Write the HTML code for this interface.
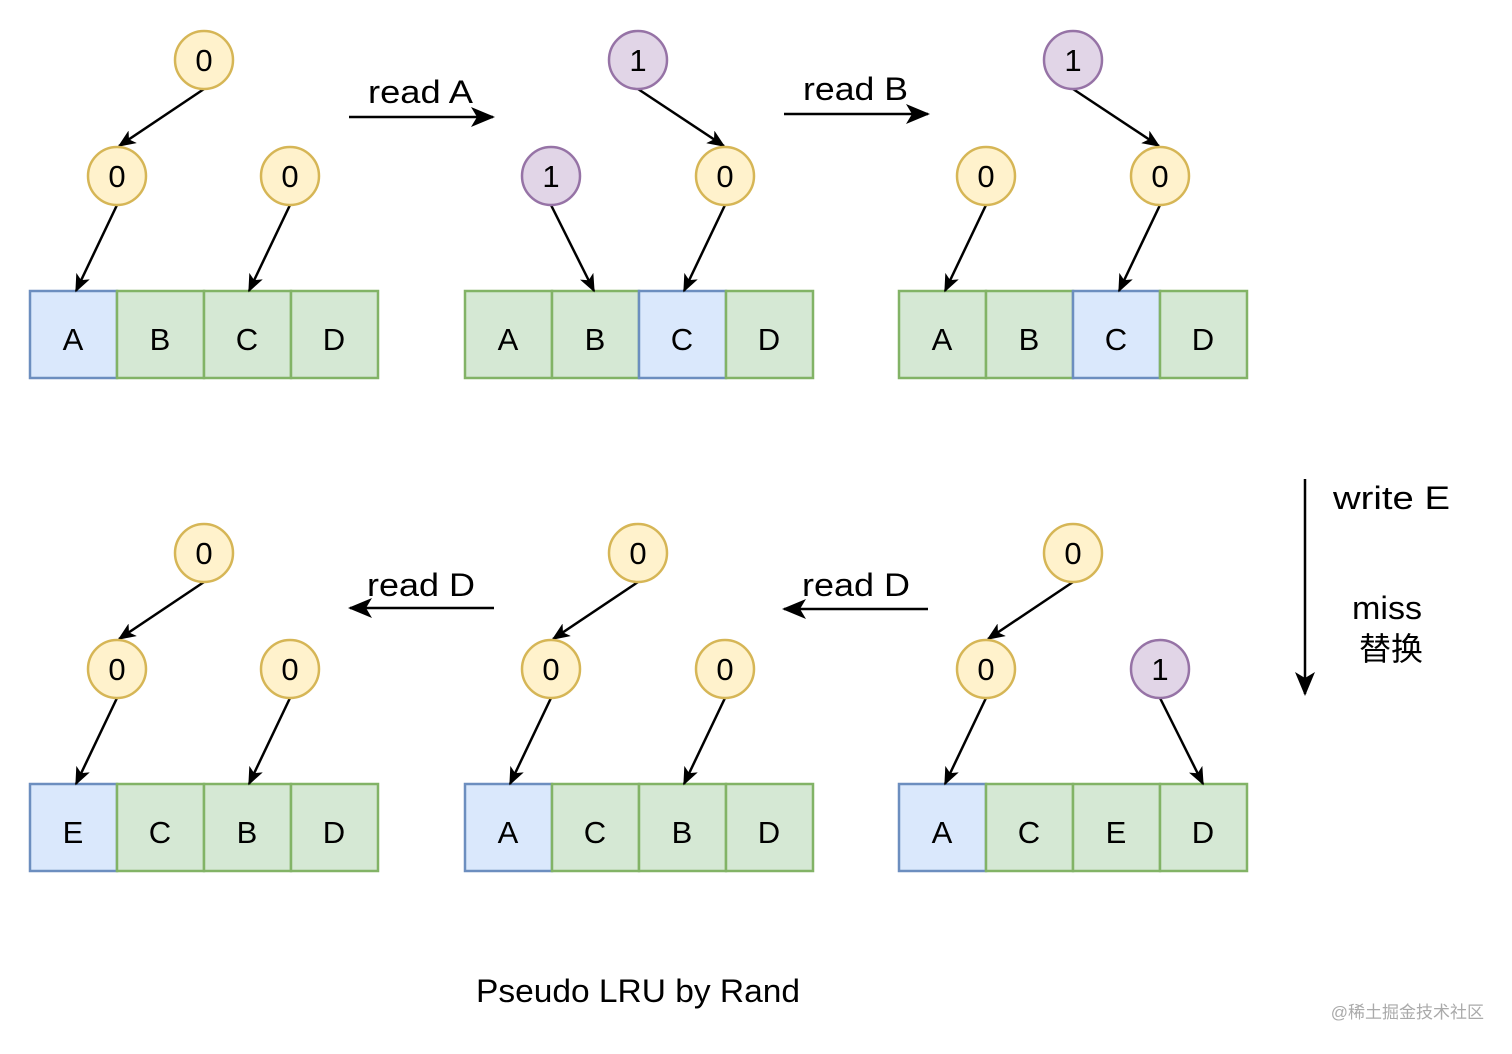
<!DOCTYPE html>
<html><head><meta charset="utf-8"><style>
html,body{margin:0;padding:0;background:#fff;}
svg text{font-family:"Comic Sans MS","Liberation Sans","Noto Sans CJK SC",sans-serif;}
</style></head><body>
<svg width="1512" height="1049" viewBox="0 0 1512 1049" xmlns="http://www.w3.org/2000/svg">
<defs>
<marker id="h" viewBox="0 0 12 10" refX="11" refY="5" markerWidth="18" markerHeight="15" orient="auto" markerUnits="userSpaceOnUse">
<path d="M0,0 L12,5 L0,10 L3,5 Z" fill="#000"/>
</marker>
<marker id="hb" viewBox="0 0 12 10" refX="11" refY="5" markerWidth="24" markerHeight="20" orient="auto" markerUnits="userSpaceOnUse">
<path d="M0,0 L12,5 L0,10 L3,5 Z" fill="#000"/>
</marker>
</defs>
<g stroke-width="2.5">
<g font-size="31" text-anchor="middle">
<rect x="30" y="291" width="87" height="87" fill="#dae8fc" stroke="#6c8ebf"/>
<rect x="117" y="291" width="87" height="87" fill="#d5e8d4" stroke="#82b366"/>
<rect x="204" y="291" width="87" height="87" fill="#d5e8d4" stroke="#82b366"/>
<rect x="291" y="291" width="87" height="87" fill="#d5e8d4" stroke="#82b366"/>
<text x="73" y="350" stroke="none">A</text><text x="160" y="350" stroke="none">B</text><text x="247" y="350" stroke="none">C</text><text x="334" y="350" stroke="none">D</text>

<rect x="465" y="291" width="87" height="87" fill="#d5e8d4" stroke="#82b366"/>
<rect x="552" y="291" width="87" height="87" fill="#d5e8d4" stroke="#82b366"/>
<rect x="639" y="291" width="87" height="87" fill="#dae8fc" stroke="#6c8ebf"/>
<rect x="726" y="291" width="87" height="87" fill="#d5e8d4" stroke="#82b366"/>
<text x="508" y="350" stroke="none">A</text><text x="595" y="350" stroke="none">B</text><text x="682" y="350" stroke="none">C</text><text x="769" y="350" stroke="none">D</text>

<rect x="899" y="291" width="87" height="87" fill="#d5e8d4" stroke="#82b366"/>
<rect x="986" y="291" width="87" height="87" fill="#d5e8d4" stroke="#82b366"/>
<rect x="1073" y="291" width="87" height="87" fill="#dae8fc" stroke="#6c8ebf"/>
<rect x="1160" y="291" width="87" height="87" fill="#d5e8d4" stroke="#82b366"/>
<text x="942" y="350" stroke="none">A</text><text x="1029" y="350" stroke="none">B</text><text x="1116" y="350" stroke="none">C</text><text x="1203" y="350" stroke="none">D</text>

<rect x="30" y="784" width="87" height="87" fill="#dae8fc" stroke="#6c8ebf"/>
<rect x="117" y="784" width="87" height="87" fill="#d5e8d4" stroke="#82b366"/>
<rect x="204" y="784" width="87" height="87" fill="#d5e8d4" stroke="#82b366"/>
<rect x="291" y="784" width="87" height="87" fill="#d5e8d4" stroke="#82b366"/>
<text x="73" y="843" stroke="none">E</text><text x="160" y="843" stroke="none">C</text><text x="247" y="843" stroke="none">B</text><text x="334" y="843" stroke="none">D</text>

<rect x="465" y="784" width="87" height="87" fill="#dae8fc" stroke="#6c8ebf"/>
<rect x="552" y="784" width="87" height="87" fill="#d5e8d4" stroke="#82b366"/>
<rect x="639" y="784" width="87" height="87" fill="#d5e8d4" stroke="#82b366"/>
<rect x="726" y="784" width="87" height="87" fill="#d5e8d4" stroke="#82b366"/>
<text x="508" y="843" stroke="none">A</text><text x="595" y="843" stroke="none">C</text><text x="682" y="843" stroke="none">B</text><text x="769" y="843" stroke="none">D</text>

<rect x="899" y="784" width="87" height="87" fill="#dae8fc" stroke="#6c8ebf"/>
<rect x="986" y="784" width="87" height="87" fill="#d5e8d4" stroke="#82b366"/>
<rect x="1073" y="784" width="87" height="87" fill="#d5e8d4" stroke="#82b366"/>
<rect x="1160" y="784" width="87" height="87" fill="#d5e8d4" stroke="#82b366"/>
<text x="942" y="843" stroke="none">A</text><text x="1029" y="843" stroke="none">C</text><text x="1116" y="843" stroke="none">E</text><text x="1203" y="843" stroke="none">D</text>
</g>

<g stroke="#000" stroke-width="2.5" fill="none" marker-end="url(#h)">
<line x1="204" y1="89" x2="119" y2="146"/>
<line x1="117" y1="205" x2="76" y2="291"/>
<line x1="290" y1="205" x2="249" y2="291"/>
<line x1="638" y1="89" x2="724" y2="146"/>
<line x1="551" y1="205" x2="594" y2="291"/>
<line x1="725" y1="205" x2="684" y2="291"/>
<line x1="1073" y1="89" x2="1159" y2="146"/>
<line x1="986" y1="205" x2="945" y2="291"/>
<line x1="1160" y1="205" x2="1119" y2="291"/>

<line x1="204" y1="582" x2="119" y2="639"/>
<line x1="117" y1="698" x2="76" y2="784"/>
<line x1="290" y1="698" x2="249" y2="784"/>
<line x1="638" y1="582" x2="553" y2="639"/>
<line x1="551" y1="698" x2="510" y2="784"/>
<line x1="725" y1="698" x2="684" y2="784"/>
<line x1="1073" y1="582" x2="988" y2="639"/>
<line x1="986" y1="698" x2="945" y2="784"/>
<line x1="1160" y1="698" x2="1203" y2="784"/>
</g>
<g stroke="#000" stroke-width="2.5" fill="none" marker-end="url(#hb)">
<line x1="349" y1="117" x2="493" y2="117"/>
<line x1="784" y1="114" x2="928" y2="114"/>
<line x1="494" y1="608" x2="350" y2="608"/>
<line x1="928" y1="609" x2="784" y2="609"/>
<line x1="1305" y1="479" x2="1305" y2="694"/>
</g>

<g font-size="31" text-anchor="middle">
<g fill="#fff2cc" stroke="#d6b656">
<circle cx="204" cy="60" r="29"/><circle cx="117" cy="176" r="29"/><circle cx="290" cy="176" r="29"/>
<circle cx="725" cy="176" r="29"/>
<circle cx="986" cy="176" r="29"/><circle cx="1160" cy="176" r="29"/>
<circle cx="204" cy="553" r="29"/><circle cx="117" cy="669" r="29"/><circle cx="290" cy="669" r="29"/>
<circle cx="638" cy="553" r="29"/><circle cx="551" cy="669" r="29"/><circle cx="725" cy="669" r="29"/>
<circle cx="1073" cy="553" r="29"/><circle cx="986" cy="669" r="29"/>
</g>
<g fill="#e1d5e7" stroke="#9673a6">
<circle cx="638" cy="60" r="29"/><circle cx="551" cy="176" r="29"/>
<circle cx="1073" cy="60" r="29"/><circle cx="1160" cy="669" r="29"/>
</g>
<g stroke="none" fill="#000">
<text x="204" y="71">0</text><text x="117" y="187">0</text><text x="290" y="187">0</text>
<text x="638" y="71">1</text><text x="551" y="187">1</text><text x="725" y="187">0</text>
<text x="1073" y="71">1</text><text x="986" y="187">0</text><text x="1160" y="187">0</text>
<text x="204" y="564">0</text><text x="117" y="680">0</text><text x="290" y="680">0</text>
<text x="638" y="564">0</text><text x="551" y="680">0</text><text x="725" y="680">0</text>
<text x="1073" y="564">0</text><text x="986" y="680">0</text><text x="1160" y="680">1</text>
</g>
</g>
</g>

<g font-size="32" fill="#000">
<text x="368" y="103" textLength="105" lengthAdjust="spacingAndGlyphs">read A</text>
<text x="803" y="100" textLength="105" lengthAdjust="spacingAndGlyphs">read B</text>
<text x="367" y="596" textLength="108" lengthAdjust="spacingAndGlyphs">read D</text>
<text x="802" y="596" textLength="108" lengthAdjust="spacingAndGlyphs">read D</text>
<text x="1333" y="509" textLength="117" lengthAdjust="spacingAndGlyphs">write E</text>
<text x="1352" y="619" textLength="70" lengthAdjust="spacingAndGlyphs">miss</text>
<text x="1391" y="660" text-anchor="middle">替换</text>
<text x="476" y="1002" textLength="324" lengthAdjust="spacingAndGlyphs">Pseudo LRU by Rand</text>
</g>
<text x="1484" y="1018" font-size="17" fill="#aaa" text-anchor="end">@稀土掘金技术社区</text>
</svg>
</body></html>
